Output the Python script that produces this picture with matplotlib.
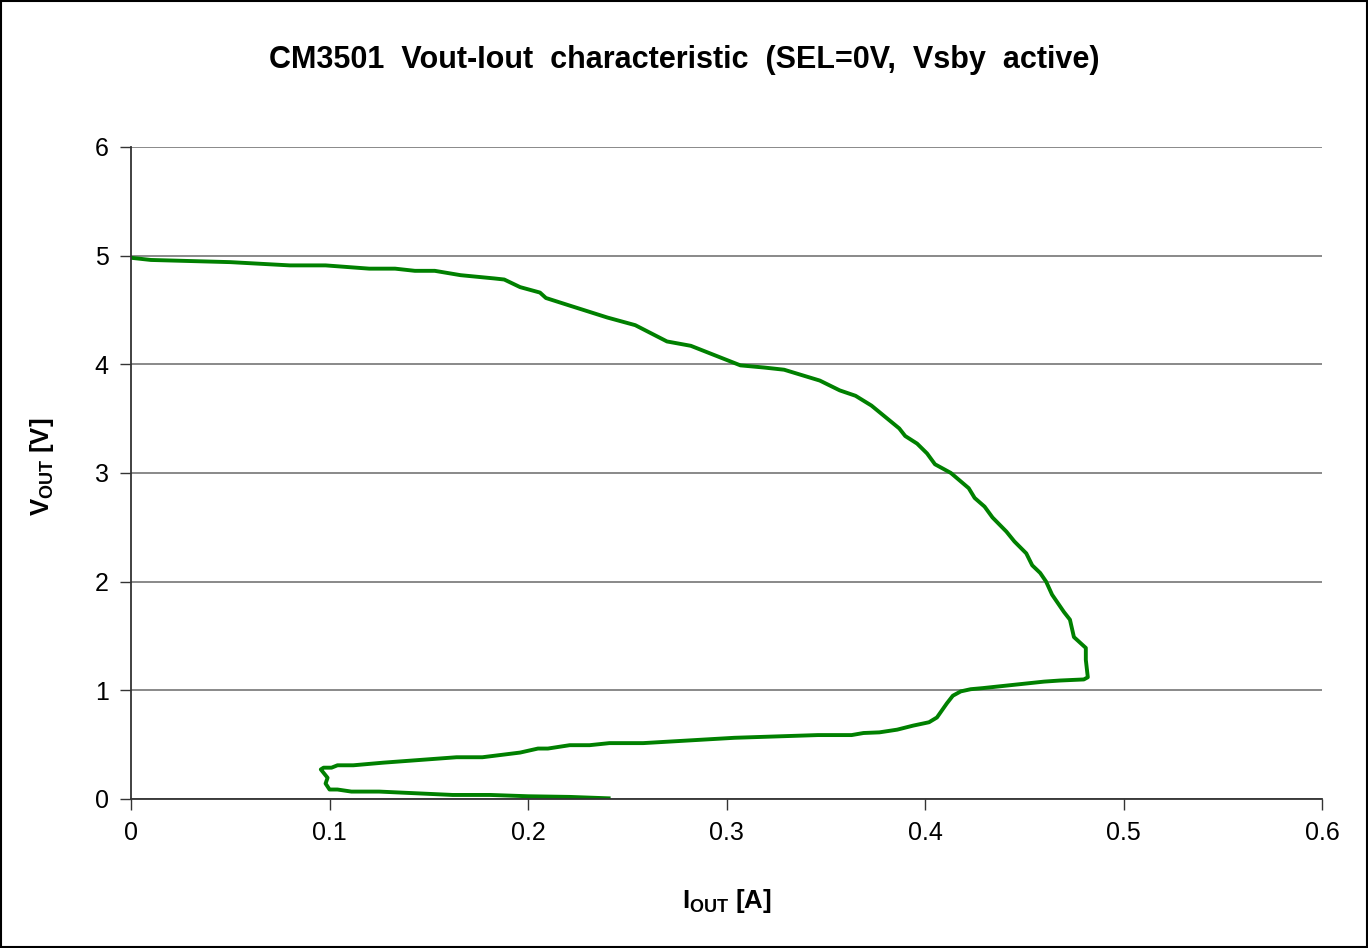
import matplotlib.pyplot as plt
from matplotlib.patches import Rectangle

plt.rcParams['font.family'] = ['Liberation Sans', 'DejaVu Sans']
plt.rcParams['mathtext.fontset'] = 'custom'
plt.rcParams['mathtext.rm'] = 'Liberation Sans'
plt.rcParams['mathtext.bf'] = 'Liberation Sans:bold'

# measured curve: output current [A], output voltage [V]
iout = [0.0, 0.01, 0.05, 0.08, 0.098, 0.12, 0.133, 0.143, 0.153, 0.166, 0.183, 0.188,
        0.196, 0.206, 0.209, 0.221, 0.240, 0.254, 0.270, 0.282, 0.307, 0.319, 0.329,
        0.347, 0.357, 0.365, 0.373, 0.387, 0.390, 0.396, 0.401, 0.405, 0.413, 0.422,
        0.425, 0.430, 0.434, 0.441, 0.445, 0.451, 0.454, 0.458, 0.461, 0.464, 0.470,
        0.473, 0.475, 0.481, 0.481, 0.482, 0.480, 0.468, 0.460, 0.429, 0.423, 0.418,
        0.414, 0.411, 0.406, 0.402, 0.394, 0.386, 0.377, 0.369, 0.363, 0.346, 0.304,
        0.258, 0.241, 0.231, 0.221, 0.210, 0.205, 0.196, 0.177, 0.164, 0.127, 0.112,
        0.104, 0.101, 0.097, 0.0956, 0.099, 0.098, 0.100, 0.104, 0.111, 0.125, 0.162,
        0.181, 0.200, 0.221, 0.2406]
vout = [4.98, 4.96, 4.94, 4.91, 4.91, 4.88, 4.88, 4.86, 4.86, 4.82, 4.79, 4.78,
        4.71, 4.66, 4.61, 4.54, 4.43, 4.36, 4.21, 4.17, 3.99, 3.97, 3.95,
        3.85, 3.76, 3.71, 3.62, 3.41, 3.34, 3.27, 3.18, 3.08, 3.00, 2.86,
        2.77, 2.69, 2.59, 2.46, 2.37, 2.26, 2.15, 2.08, 2.00, 1.88, 1.72,
        1.65, 1.49, 1.39, 1.28, 1.12, 1.10, 1.09, 1.08, 1.02, 1.01, 0.99,
        0.95, 0.88, 0.75, 0.706, 0.675, 0.638, 0.613, 0.607, 0.588, 0.588, 0.563,
        0.514, 0.514, 0.495, 0.495, 0.464, 0.464, 0.427, 0.384, 0.384, 0.334, 0.310,
        0.310, 0.288, 0.288, 0.272, 0.195, 0.142, 0.087, 0.087, 0.068, 0.068, 0.037,
        0.037, 0.025, 0.019, 0.006]

fig = plt.figure(figsize=(13.68, 9.48), dpi=100)
ax = fig.add_axes([0.0958, 0.1572, 0.8706, 0.6878])

ax.plot(iout, vout, color='#008000', linewidth=2.8, solid_joinstyle='round')

ax.set_xlim(0, 0.6)
ax.set_ylim(0, 6)
ax.set_xticks([0, 0.1, 0.2, 0.3, 0.4, 0.5, 0.6])
ax.set_xticklabels(['0', '0.1', '0.2', '0.3', '0.4', '0.5', '0.6'])
ax.set_yticks(range(7))
ax.yaxis.grid(True, color='#808080', linewidth=1.3)
ax.set_axisbelow(True)
for s in ['top', 'right']:
    ax.spines[s].set_visible(False)
for s in ['left', 'bottom']:
    ax.spines[s].set_color('#333333')
    ax.spines[s].set_linewidth(1.3)
ax.tick_params(direction='out', length=8, width=1, color='#333333', labelsize=18, pad=8)

fig.text(0.5, 1 - 60 / 948, 'CM3501  Vout-Iout  characteristic  (SEL=0V,  Vsby  active)',
         fontsize=22, fontweight='bold', ha='center', va='center')
ax.set_xlabel(r'I$_{\mathbf{OUT}}$ [A]', fontsize=18.5, fontweight='bold')
ax.set_ylabel(r'V$_{\mathbf{OUT}}$ [V]', fontsize=18.5, fontweight='bold')
ax.xaxis.set_label_coords(0.5, -0.135)
ax.yaxis.set_label_coords(-0.063, 0.51)

fig.patches.append(Rectangle((0.001, 0.001), 0.998, 0.998, transform=fig.transFigure,
                             fill=False, edgecolor='black', linewidth=1.5))

fig.savefig('out.png', dpi=100)
